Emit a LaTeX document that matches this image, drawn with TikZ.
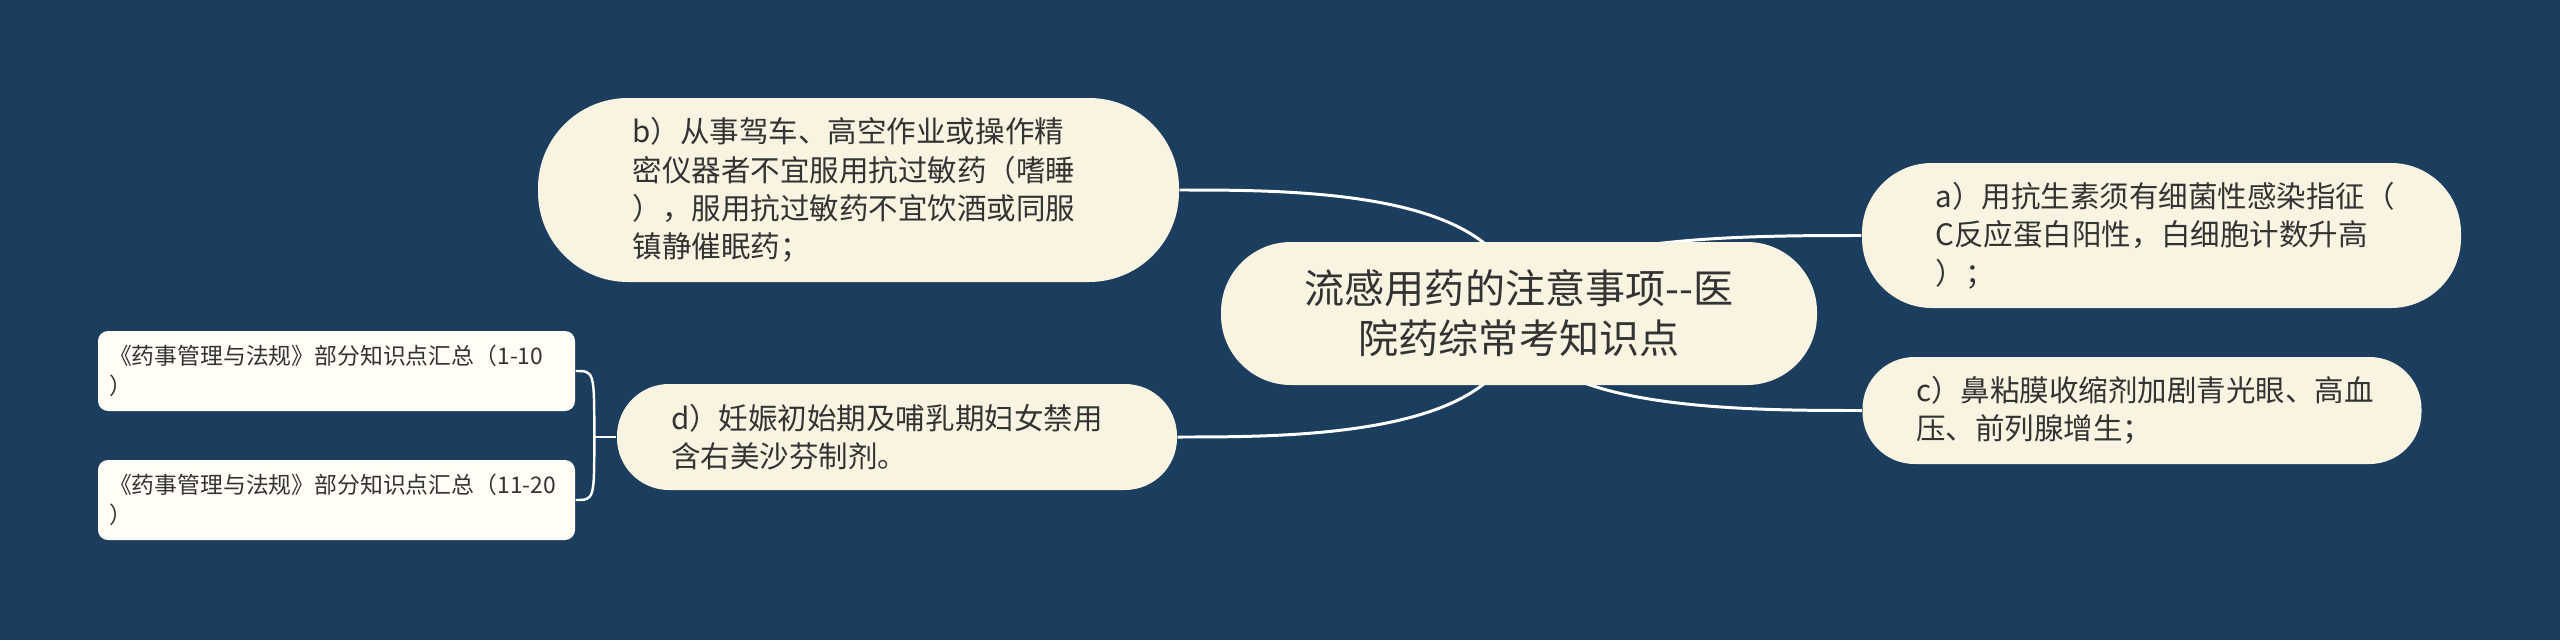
\documentclass[tikz,border=0pt]{standalone}
\usepackage{fontspec}
\setmainfont{Noto Sans CJK SC}
\definecolor{navy}{HTML}{1B3D5E}
\definecolor{cream}{HTML}{F9F4E1}
\definecolor{paper}{HTML}{FFFDF6}
\definecolor{ink}{HTML}{333333}
\pgfdeclarelayer{back}
\pgfdeclarelayer{links}
\pgfsetlayers{back,links,main}
\tikzset{
  idea/.style={fill=cream, text=ink, inner sep=0pt, align=left, text width=4.52cm, font=\fontsize{8.4pt}{10.9pt}\selectfont},
  leaf/.style={fill=paper, text=ink, inner sep=0pt, align=left, text width=4.55cm, minimum width=4.77cm, minimum height=0.8cm, rounded corners=0.1cm, font=\fontsize{6.5pt}{8.5pt}\selectfont},
  link/.style={draw=white, line width=0.85pt},
  twig/.style={draw=white, line width=0.7pt},
}

\begin{document}
\begin{tikzpicture}
\useasboundingbox (0,0) rectangle (25.6,6.4);
\begin{pgfonlayer}{back}
\fill[navy] (0,0) rectangle (25.6,6.4);
\end{pgfonlayer}

\node[idea, align=center, text width=4.6cm, minimum width=5.96cm, minimum height=1.43cm, rounded corners=0.7cm, font=\fontsize{11.4pt}{14.2pt}\selectfont] (ctr) at (15.19,3.265) {流感用药的注意事项-{}-医\\院药综常考知识点};
\node[idea, minimum width=6.41cm, minimum height=1.84cm, rounded corners=0.9cm] (b) at (8.585,4.50) {b）从事驾车、高空作业或操作精\\密仪器者不宜服用抗过敏药（嗜睡\\），服用抗过敏药不宜饮酒或同服\\镇静催眠药；};
\node[idea, minimum width=5.99cm, minimum height=1.45cm, rounded corners=0.7cm] (a) at (21.615,4.045) {a）用抗生素须有细菌性感染指征（\\C反应蛋白阳性，白细胞计数升高\\）；};
\node[idea, minimum width=5.59cm, minimum height=1.07cm, rounded corners=0.52cm] (c) at (21.42,2.295) {c）鼻粘膜收缩剂加剧青光眼、高血\\压、前列腺增生；};
\node[idea, minimum width=5.6cm, minimum height=1.06cm, rounded corners=0.52cm] (d) at (8.97,2.03) {d）妊娠初始期及哺乳期妇女禁用\\含右美沙芬制剂。};
\node[leaf] (l1) at (3.365,2.69) {《药事管理与法规》部分知识点汇总（1-10\\）};
\node[leaf] (l2) at (3.365,1.40) {《药事管理与法规》部分知识点汇总（11-20\\）};

\begin{pgfonlayer}{links}
\draw[link] (ctr.center) .. controls (ctr.center |- b.east) and ([xshift=1.2cm]b.east) .. (b.east);
\draw[link] (ctr.center) .. controls (ctr.center |- d.east) and ([xshift=1.2cm]d.east) .. (d.east);
\draw[link] (ctr.center) .. controls (ctr.center |- a.west) and ([xshift=-1.2cm]a.west) .. (a.west);
\draw[link] (ctr.center) .. controls (ctr.center |- c.west) and ([xshift=-1.2cm]c.west) .. (c.west);
\coordinate (fork) at ([xshift=-0.22cm]d.west);
\draw[twig] (d.west) -- (fork);
\draw[twig] (fork) .. controls (fork |- l1.east) .. (l1.east);
\draw[twig] (fork) .. controls (fork |- l2.east) .. (l2.east);
\end{pgfonlayer}
\end{tikzpicture}
\end{document}
